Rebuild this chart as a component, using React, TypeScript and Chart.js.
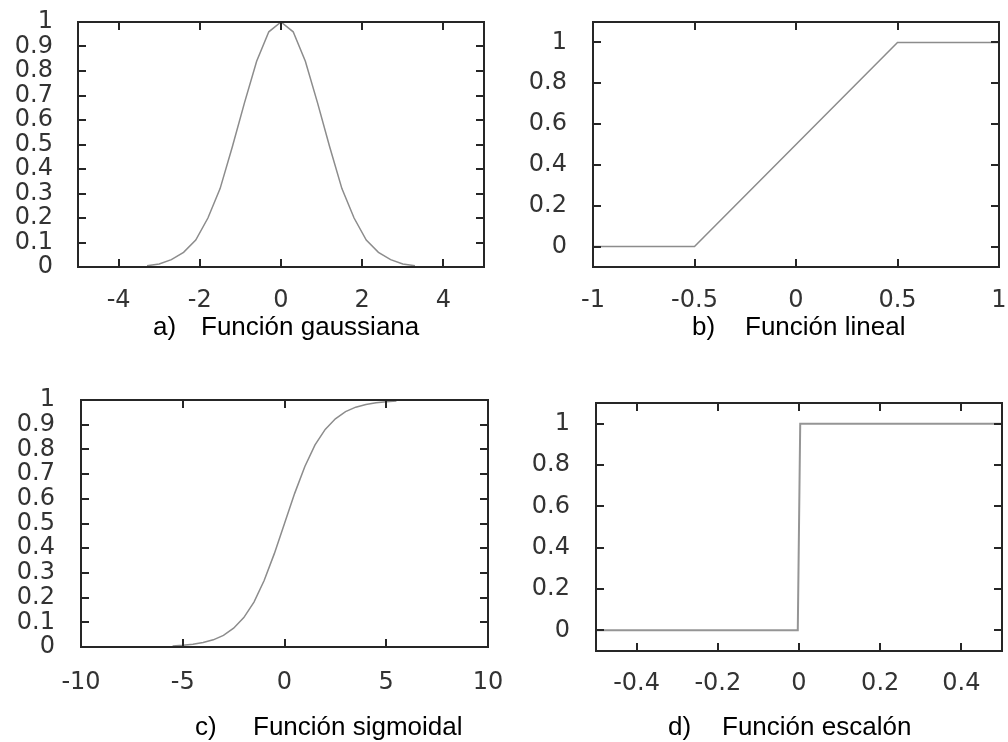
import React, { useEffect, useRef } from "react";
import { Chart, registerables } from "chart.js";

Chart.register(...registerables);

// a) Función gaussiana
const gaussX = [-3.3, -3.0, -2.7, -2.4, -2.1, -1.8, -1.5, -1.2, -0.9, -0.6, -0.3, 0, 0.3, 0.6, 0.9, 1.2, 1.5, 1.8, 2.1, 2.4, 2.7, 3.0, 3.3];
const gaussY = [0.005, 0.012, 0.03, 0.06, 0.11, 0.2, 0.32, 0.49, 0.67, 0.84, 0.96, 1.0, 0.96, 0.84, 0.67, 0.49, 0.32, 0.2, 0.11, 0.06, 0.03, 0.012, 0.005];
const gaussXTicks = [-4, -2, 0, 2, 4];

// b) Función lineal
const linealX = [-1, -0.5, 0.5, 1];
const linealY = [0, 0, 1, 1];
const linealXTicks = [-1, -0.5, 0, 0.5, 1];

// c) Función sigmoidal
const sigmoX = [-5.5, -5, -4.5, -4, -3.5, -3, -2.5, -2, -1.5, -1, -0.5, 0, 0.5, 1, 1.5, 2, 2.5, 3, 3.5, 4, 4.5, 5, 5.5];
const sigmoY = [0.004, 0.007, 0.011, 0.018, 0.029, 0.047, 0.076, 0.119, 0.182, 0.269, 0.378, 0.5, 0.622, 0.731, 0.818, 0.881, 0.924, 0.953, 0.971, 0.982, 0.989, 0.993, 0.996];
const sigmoXTicks = [-10, -5, 0, 5, 10];

// d) Función escalón
const escalonX = [-0.5, -0.003, 0.003, 0.5];
const escalonY = [0, 0, 1, 1];
const escalonXTicks = [-0.4, -0.2, 0, 0.2, 0.4];

// y ticks
const tenthTicks = [0, 0.1, 0.2, 0.3, 0.4, 0.5, 0.6, 0.7, 0.8, 0.9, 1];
const fifthTicks = [0, 0.2, 0.4, 0.6, 0.8, 1];

const PAGE_W = 1008;
const PAGE_H = 742;

type PanelDef = {
  canvas: { left: number; top: number; width: number; height: number };
  area: { left: number; top: number; right: number; bottom: number };
  xRange: [number, number];
  yRange: [number, number];
  xTicks: number[];
  yTicks: number[];
  xs: number[];
  ys: number[];
  lineColor: string;
  lineWidth: number;
  xPad: number;
  yPad: number;
  prefix: string;
  name: string;
  prefixLeft: number;
  nameLeft: number;
  baseline: number;
};

const panels: PanelDef[] = [
  {
    canvas: { left: 0, top: 0, width: 504, height: 371 },
    area: { left: 78, top: 22, right: 484, bottom: 267 },
    xRange: [-5, 5],
    yRange: [0, 1],
    xTicks: gaussXTicks,
    yTicks: tenthTicks,
    xs: gaussX,
    ys: gaussY,
    lineColor: "#8c8c8c",
    lineWidth: 1.5,
    xPad: 19,
    yPad: 25,
    prefix: "a)",
    name: "Función gaussiana",
    prefixLeft: 153,
    nameLeft: 201,
    baseline: 335,
  },
  {
    canvas: { left: 504, top: 0, width: 504, height: 371 },
    area: { left: 593, top: 22, right: 999, bottom: 267 },
    xRange: [-1, 1],
    yRange: [-0.1, 1.1],
    xTicks: linealXTicks,
    yTicks: fifthTicks,
    xs: linealX,
    ys: linealY,
    lineColor: "#8c8c8c",
    lineWidth: 1.5,
    xPad: 19,
    yPad: 26,
    prefix: "b)",
    name: "Función lineal",
    prefixLeft: 692,
    nameLeft: 745,
    baseline: 335,
  },
  {
    canvas: { left: 0, top: 371, width: 504, height: 371 },
    area: { left: 81, top: 400, right: 488, bottom: 647 },
    xRange: [-10, 10],
    yRange: [0, 1],
    xTicks: sigmoXTicks,
    yTicks: tenthTicks,
    xs: sigmoX,
    ys: sigmoY,
    lineColor: "#8c8c8c",
    lineWidth: 1.5,
    xPad: 21,
    yPad: 26,
    prefix: "c)",
    name: "Función sigmoidal",
    prefixLeft: 195,
    nameLeft: 253,
    baseline: 735,
  },
  {
    canvas: { left: 504, top: 371, width: 504, height: 371 },
    area: { left: 596, top: 403, right: 1002, bottom: 651 },
    xRange: [-0.5, 0.5],
    yRange: [-0.1, 1.1],
    xTicks: escalonXTicks,
    yTicks: fifthTicks,
    xs: escalonX,
    ys: escalonY,
    lineColor: "#959595",
    lineWidth: 2,
    xPad: 18,
    yPad: 26,
    prefix: "d)",
    name: "Función escalón",
    prefixLeft: 668,
    nameLeft: 722,
    baseline: 735,
  },
];

const TICK_FONT = "'DejaVu Sans', 'Liberation Sans', sans-serif";
const TICK_SIZE = 24;
const TITLE_FONT = "'Liberation Sans', Arial, sans-serif";
const FRAME_COLOR = "#262626";
const TICK_LEN = 8;

// Closed box around the plot area with inward tick marks on all four sides
const framePlugin = {
  id: "gnuFrame",
  afterDatasetsDraw(chart: any) {
    const { ctx, chartArea } = chart;
    const { left, top, right, bottom } = chartArea;
    const xs = chart.scales.x;
    const ys = chart.scales.y;
    ctx.save();
    ctx.strokeStyle = FRAME_COLOR;
    ctx.lineWidth = 2;
    ctx.lineCap = "butt";
    ctx.strokeRect(left, top, right - left, bottom - top);
    ctx.beginPath();
    xs.ticks.forEach((t: any) => {
      const px = Math.round(xs.getPixelForValue(t.value));
      ctx.moveTo(px, bottom);
      ctx.lineTo(px, bottom - TICK_LEN);
      ctx.moveTo(px, top);
      ctx.lineTo(px, top + TICK_LEN);
    });
    ys.ticks.forEach((t: any) => {
      const py = Math.round(ys.getPixelForValue(t.value));
      ctx.moveTo(left, py);
      ctx.lineTo(left + TICK_LEN, py);
      ctx.moveTo(right, py);
      ctx.lineTo(right - TICK_LEN, py);
    });
    ctx.stroke();
    ctx.restore();
  },
};

function FunctionPanel({ def }: { def: PanelDef }) {
  const ref = useRef<HTMLCanvasElement | null>(null);

  useEffect(() => {
    const canvas = ref.current;
    if (!canvas) return;
    const c = def.canvas;
    const a = def.area;
    const points = def.xs.map((x, i) => ({ x, y: def.ys[i] }));

    const chart = new Chart(canvas, {
      type: "line",
      data: {
        datasets: [
          {
            data: points,
            borderColor: def.lineColor,
            borderWidth: def.lineWidth,
            pointRadius: 0,
            fill: false,
            tension: 0,
          },
        ],
      },
      options: {
        animation: false,
        responsive: false,
        maintainAspectRatio: false,
        events: [],
        layout: {
          padding: {
            left: 0,
            top: a.top - c.top,
            right: c.left + c.width - a.right,
            bottom: 0,
          },
        },
        plugins: {
          legend: { display: false },
          tooltip: { enabled: false },
          title: { display: false },
        },
        scales: {
          x: {
            type: "linear",
            min: def.xRange[0],
            max: def.xRange[1],
            grid: { display: false, drawTicks: false },
            border: { display: false },
            ticks: {
              autoSkip: false,
              maxRotation: 0,
              padding: def.xPad,
              color: "#333333",
              font: { family: TICK_FONT, size: TICK_SIZE },
              callback: (v: any) => String(v),
            },
            afterBuildTicks: (scale: any) => {
              scale.ticks = def.xTicks.map((v) => ({ value: v }));
            },
            afterFit: (scale: any) => {
              scale.height = c.top + c.height - a.bottom;
              scale.paddingLeft = 0;
              scale.paddingRight = 0;
              scale.paddingTop = 0;
              scale.paddingBottom = 0;
            },
          },
          y: {
            type: "linear",
            min: def.yRange[0],
            max: def.yRange[1],
            grid: { display: false, drawTicks: false },
            border: { display: false },
            ticks: {
              autoSkip: false,
              padding: def.yPad,
              color: "#333333",
              font: { family: TICK_FONT, size: TICK_SIZE },
              callback: (v: any) => String(v),
            },
            afterBuildTicks: (scale: any) => {
              scale.ticks = def.yTicks.map((v) => ({ value: v }));
            },
            afterFit: (scale: any) => {
              scale.width = a.left - c.left;
              scale.paddingLeft = 0;
              scale.paddingRight = 0;
              scale.paddingTop = 0;
              scale.paddingBottom = 0;
            },
          },
        },
      },
      plugins: [framePlugin],
    });

    return () => chart.destroy();
  }, [def]);

  const titleStyle: React.CSSProperties = {
    position: "absolute",
    top: def.baseline - 22,
    fontFamily: TITLE_FONT,
    fontSize: 26,
    lineHeight: "26px",
    color: "#000",
    whiteSpace: "nowrap",
  };

  return (
    <>
      <canvas
        ref={ref}
        width={def.canvas.width}
        height={def.canvas.height}
        style={{
          position: "absolute",
          left: def.canvas.left,
          top: def.canvas.top,
          width: def.canvas.width,
          height: def.canvas.height,
        }}
      />
      <div style={{ ...titleStyle, left: def.prefixLeft }}>{def.prefix}</div>
      <div style={{ ...titleStyle, left: def.nameLeft }}>{def.name}</div>
    </>
  );
}

export default function App() {
  return (
    <div
      style={{
        position: "absolute",
        left: 0,
        top: 0,
        width: PAGE_W,
        height: PAGE_H,
        background: "#fff",
        overflow: "hidden",
      }}
    >
      {panels.map((p) => (
        <FunctionPanel key={p.prefix} def={p} />
      ))}
    </div>
  );
}
